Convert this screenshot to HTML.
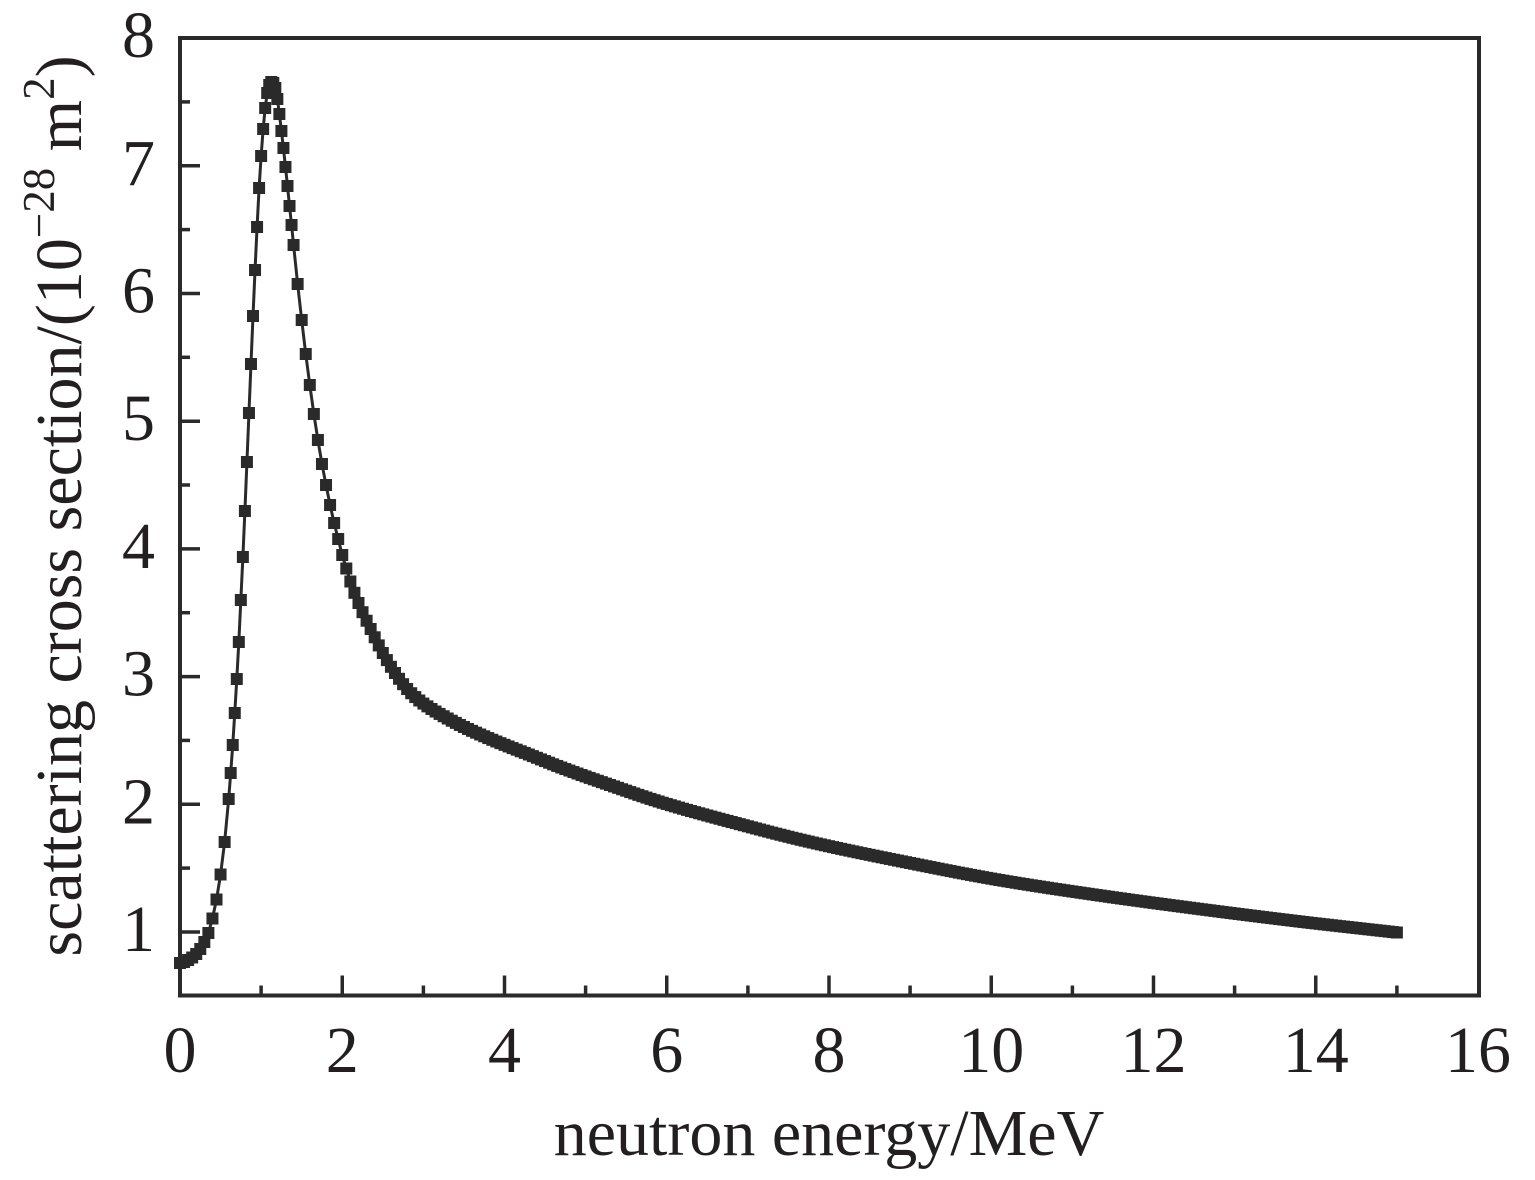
<!DOCTYPE html>
<html>
<head>
<meta charset="utf-8">
<style>
html,body{margin:0;padding:0;background:#fff;}
svg{display:block;}
</style>
</head>
<body>
<svg id="s" width="1535" height="1180" viewBox="0 0 1535 1180" xmlns="http://www.w3.org/2000/svg">
<rect x="0" y="0" width="1535" height="1180" fill="#ffffff"/>

<!-- ticks -->
<g stroke="#2a2a2a" stroke-width="3.5" fill="none">
  <line x1="180" y1="932" x2="200" y2="932"/>
  <line x1="180" y1="804.3" x2="200" y2="804.3"/>
  <line x1="180" y1="676.6" x2="200" y2="676.6"/>
  <line x1="180" y1="548.9" x2="200" y2="548.9"/>
  <line x1="180" y1="421.2" x2="200" y2="421.2"/>
  <line x1="180" y1="293.5" x2="200" y2="293.5"/>
  <line x1="180" y1="165.8" x2="200" y2="165.8"/>
  <line x1="180" y1="868.1" x2="190" y2="868.1"/>
  <line x1="180" y1="740.4" x2="190" y2="740.4"/>
  <line x1="180" y1="612.7" x2="190" y2="612.7"/>
  <line x1="180" y1="485" x2="190" y2="485"/>
  <line x1="180" y1="357.3" x2="190" y2="357.3"/>
  <line x1="180" y1="229.6" x2="190" y2="229.6"/>
  <line x1="180" y1="101.9" x2="190" y2="101.9"/>
  <line x1="342.25" y1="995.5" x2="342.25" y2="975.5"/>
  <line x1="504.5" y1="995.5" x2="504.5" y2="975.5"/>
  <line x1="666.75" y1="995.5" x2="666.75" y2="975.5"/>
  <line x1="829" y1="995.5" x2="829" y2="975.5"/>
  <line x1="991.25" y1="995.5" x2="991.25" y2="975.5"/>
  <line x1="1153.5" y1="995.5" x2="1153.5" y2="975.5"/>
  <line x1="1315.75" y1="995.5" x2="1315.75" y2="975.5"/>
  <line x1="261.1" y1="995.5" x2="261.1" y2="985.5"/>
  <line x1="423.4" y1="995.5" x2="423.4" y2="985.5"/>
  <line x1="585.6" y1="995.5" x2="585.6" y2="985.5"/>
  <line x1="747.9" y1="995.5" x2="747.9" y2="985.5"/>
  <line x1="910.1" y1="995.5" x2="910.1" y2="985.5"/>
  <line x1="1072.4" y1="995.5" x2="1072.4" y2="985.5"/>
  <line x1="1234.6" y1="995.5" x2="1234.6" y2="985.5"/>
  <line x1="1396.9" y1="995.5" x2="1396.9" y2="985.5"/>
</g>

<!-- frame -->
<rect x="180" y="38" width="1299" height="957.5" fill="none" stroke="#2a2a2a" stroke-width="4"/>

<!-- tick labels -->
<g font-family="'Liberation Serif', 'Times New Roman', serif" font-size="66" fill="#231f20">
  <g text-anchor="end">
    <text x="155" y="951">1</text>
    <text x="155" y="823.3">2</text>
    <text x="155" y="695.6">3</text>
    <text x="155" y="567.9">4</text>
    <text x="155" y="440.2">5</text>
    <text x="155" y="312.5">6</text>
    <text x="155" y="184.8">7</text>
    <text x="155" y="57">8</text>
  </g>
  <g text-anchor="middle">
    <text x="180" y="1072">0</text>
    <text x="342.25" y="1072">2</text>
    <text x="504.5" y="1072">4</text>
    <text x="666.75" y="1072">6</text>
    <text x="829" y="1072">8</text>
    <text x="991.25" y="1072">10</text>
    <text x="1153.5" y="1072">12</text>
    <text x="1315.75" y="1072">14</text>
    <text x="1478" y="1072">16</text>
  </g>
  <text x="829" y="1155" text-anchor="middle">neutron energy/MeV</text>
  <text transform="translate(81,506) rotate(-90)" text-anchor="middle">scattering cross section/(10<tspan font-size="45" dy="-27">−28</tspan><tspan dy="27"> m</tspan><tspan font-size="45" dy="-27">2</tspan><tspan dy="27">)</tspan></text>
</g>

<polyline id="ln" fill="none" stroke="#2a2a2a" stroke-width="3" stroke-linejoin="round" points=""/>
<g id="mk" fill="#2a2a2a"></g>
</svg>

<script>
(function(){
  var NS="http://www.w3.org/2000/svg";
  function X(E){return 180+81.125*E;}
  var direct=[[0,963],[0.05,962],[0.1,960],[0.15,957.5],[0.2,954],[0.25,949],[0.3,942],[0.35,933],[0.4,918.5],[0.45,899.5],[0.5,874.5],[0.55,842],[0.6,799],[0.625,773],[0.65,745],[0.675,713],[0.7,679],[0.725,642],[0.75,600],[0.775,557],[0.8,511],[0.825,462],[0.85,413],[0.875,364],[0.9,316],[0.925,270],[0.95,227],[0.975,188],[1.0,156],[1.025,129],[1.05,108],[1.075,93],[1.1,85],[1.125,82],[1.15,83],[1.175,88],[1.2,99],[1.225,114],[1.25,131],[1.275,148],[1.3,167],[1.325,186],[1.35,206],[1.375,225],[1.4,245]];
  var knots=[[1.4,245],[1.45,284],[1.5,320],[1.55,354],[1.6,385],[1.65,414],[1.7,440],[1.75,464],[1.8,485],[1.85,505],[1.9,523],[1.95,539],[2.0,555],[2.05,568.5],[2.1,581.5],[2.2,603],[2.35,629],[2.5,653],[2.65,673],[2.8,689],[2.95,700.5],[3.1,709],[3.3,718.5],[3.5,727],[3.7,734.5],[3.9,741.5],[4.3,754.5],[4.7,767.5],[5.3,785],[5.92,802],[6.8,822],[7.77,842],[9.0,863],[10.1,880],[11.3,895],[12.57,909],[13.8,921.5],[15.0,932.5]];
  function fc(pts){
    var n=pts.length,xs=[],ys=[],d=[],m=[],i;
    for(i=0;i<n;i++){xs.push(pts[i][0]);ys.push(pts[i][1]);}
    for(i=0;i<n-1;i++)d.push((ys[i+1]-ys[i])/(xs[i+1]-xs[i]));
    m[0]=d[0];m[n-1]=d[n-2];
    for(i=1;i<n-1;i++){
      if(d[i-1]*d[i]<=0)m[i]=0;
      else{var h0=xs[i]-xs[i-1],h1=xs[i+1]-xs[i];var w1=2*h1+h0,w2=h1+2*h0;m[i]=(w1+w2)/(w1/d[i-1]+w2/d[i]);}
    }
    return function(x){
      var k=0;while(k<n-2&&x>xs[k+1])k++;
      var h=xs[k+1]-xs[k],t=(x-xs[k])/h,t2=t*t,t3=t2*t;
      return (2*t3-3*t2+1)*ys[k]+(t3-2*t2+t)*h*m[k]+(-2*t3+3*t2)*ys[k+1]+(t3-t2)*h*m[k+1];
    };
  }
  var f=fc(knots);
  var pts=[];
  for(var i=0;i<direct.length;i++)pts.push([X(direct[i][0]),direct[i][1]]);
  for(var j=29;j<=300;j++){var E=j*0.05;pts.push([X(E),f(E)]);}
  var s="";
  for(i=0;i<pts.length;i++)s+=pts[i][0].toFixed(2)+","+pts[i][1].toFixed(2)+" ";
  document.getElementById("ln").setAttribute("points",s);
  var g=document.getElementById("mk");
  var sz=12;
  for(i=0;i<pts.length;i++){
    var r=document.createElementNS(NS,"rect");
    r.setAttribute("x",(pts[i][0]-sz/2).toFixed(2));
    r.setAttribute("y",(pts[i][1]-sz/2).toFixed(2));
    r.setAttribute("width",sz);
    r.setAttribute("height",sz);
    g.appendChild(r);
  }
})();
</script>
</body>
</html>
